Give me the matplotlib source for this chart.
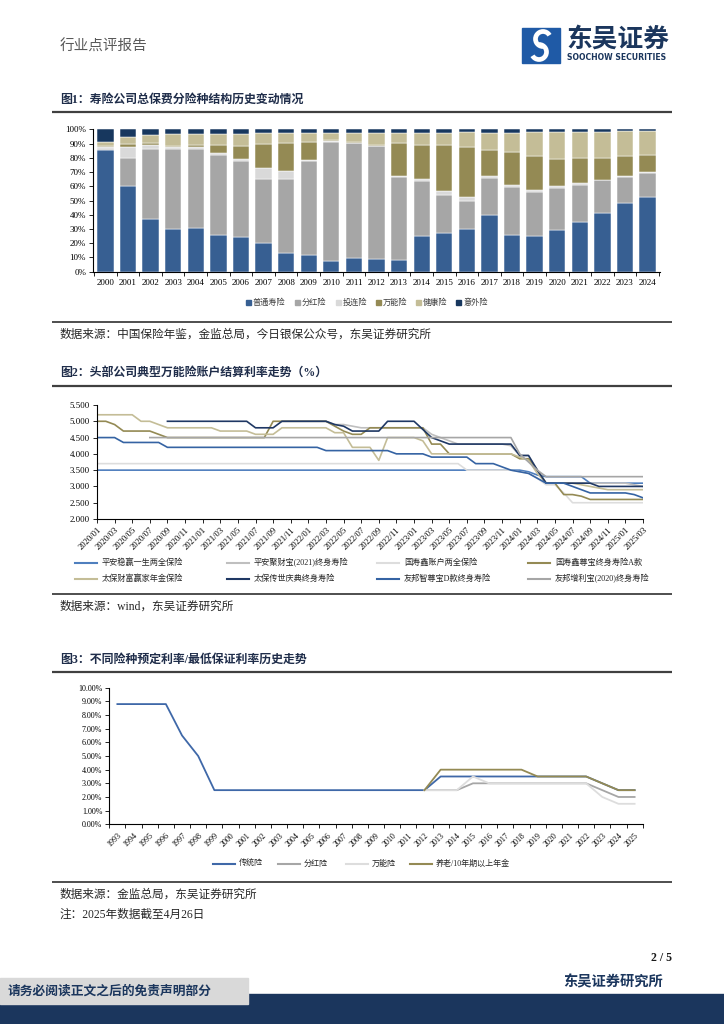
import matplotlib
matplotlib.use("Agg")
import matplotlib.pyplot as plt
from matplotlib.patches import Rectangle, Arc
from matplotlib.ticker import FormatStrFormatter
import numpy as np

W, H = 724, 1024
plt.rcParams['font.family'] = ['Liberation Serif', 'Noto Sans CJK SC']
plt.rcParams['axes.linewidth'] = 0.8

NAVY = '#1B365D'


def runs(*pairs):
    # expand (value, number of months) pairs
    out = []
    for v, n in pairs:
        out += [v] * n
    return out


# ---------------- chart 1 data: premium mix by product (%) ----------------
years1 = [str(y) for y in range(2000, 2025)]
mix_names = ['普通寿险', '分红险', '投连险', '万能险', '健康险', '意外险']
ordinary = [85.5, 60.4, 37.0, 30.0, 30.9, 25.8, 24.6, 19.9, 12.9, 11.9, 7.7, 9.6, 9.1,
            8.2, 25.1, 27.4, 30.0, 39.6, 26.0, 25.1, 29.0, 35.1, 41.2, 48.5, 52.2]
participating = [0.8, 19.2, 49.2, 56.0, 55.5, 56.4, 53.2, 45.0, 52.0, 65.6, 83.2, 80.6, 79.2,
                 58.1, 38.8, 26.5, 19.6, 26.0, 33.7, 31.1, 29.8, 25.6, 23.0, 18.0, 17.1]
unit_linked = [1.5, 7.8, 2.8, 1.8, 1.4, 1.4, 1.1, 7.7, 5.8, 1.0, 0.7, 0.3, 0.3,
               0.9, 1.2, 3.0, 2.6, 1.4, 1.0, 1.4, 1.2, 1.6, 0.4, 0.5, 0.5]
universal = [0.2, 2.3, 1.6, 0.7, 1.4, 5.2, 9.4, 17.1, 19.9, 12.8, 0.7, 0.5, 0.6,
             23.0, 23.9, 32.1, 35.2, 18.7, 23.1, 23.9, 19.4, 17.6, 15.0, 14.3, 12.4]
health = [3.2, 4.7, 5.7, 8.0, 7.5, 7.9, 8.4, 7.5, 7.1, 6.4, 5.4, 6.2, 8.0,
          7.5, 8.7, 8.7, 10.7, 12.0, 13.9, 16.6, 18.7, 18.2, 18.8, 17.3, 16.6]
accident = [8.8, 5.6, 3.7, 3.5, 3.3, 3.3, 3.3, 2.8, 2.3, 2.3, 2.3, 2.8, 2.8,
            2.3, 2.3, 2.3, 1.9, 2.3, 2.3, 1.9, 1.9, 1.9, 1.6, 1.4, 1.2]
mix_colors = ['#375F92', '#A6A6A6', '#D9D9D9', '#948A54', '#C4BD97', '#17375E']

# ---------------- chart 2 data: universal life crediting rates (%) ----------------
months = [f'{y}/{m:02d}' for y in range(2020, 2026) for m in range(1, 13)][:63]
pa_wenying = runs((3.5, 49), (3.45, 1), (3.35, 1), (3.3, 5), (3.1, 7))
pa_jucaibao = runs((None, 21), (5.0, 6), (4.9, 2), (4.85, 1), (4.8, 8), (4.6, 1), (4.5, 1),
                   (4.4, 1), (4.3, 6), (4.25, 1), (3.95, 2), (3.5, 1), (3.1, 10), (3.05, 1), (3.0, 1))
gs_zhanghu = runs((3.7, 42), (3.5, 6), (3.45, 1), (3.4, 1), (3.25, 1), (3.05, 2), (2.8, 1), (2.5, 9))
gs_zunbao = runs((5.0, 2), (4.9, 1), (4.7, 4), (4.6, 1), (4.5, 12), (5.0, 7), (4.85, 1), (4.7, 1),
                 (4.6, 2), (4.8, 7), (4.3, 2), (4.0, 8), (3.85, 2), (3.5, 1), (3.1, 2), (2.75, 2),
                 (2.7, 1), (2.6, 7))
tb_caifu = runs((5.2, 5), (5.0, 2), (4.9, 1), (4.8, 6), (4.7, 4), (4.6, 3), (4.8, 6), (4.65, 2),
                (4.2, 3), (3.8, 1), (4.5, 4), (4.4, 1), (4.0, 10), (3.9, 1), (3.8, 1), (3.4, 1),
                (3.1, 4), (3.05, 1), (3.0, 1), (2.95, 1), (2.9, 5))
tb_chuanshi = runs((None, 8), (5.0, 10), (4.8, 3), (5.0, 6), (4.9, 1), (4.85, 1), (4.7, 4),
                   (5.0, 4), (4.75, 1), (4.5, 1), (4.4, 1), (4.3, 8), (3.95, 2), (3.5, 1),
                   (3.1, 6), (3.0, 6))
aia_zhizun = runs((4.5, 3), (4.35, 5), (4.2, 18), (4.1, 8), (4.0, 4), (3.9, 5), (3.7, 3), (3.6, 1),
                  (3.5, 1), (3.45, 1), (3.4, 1), (3.25, 1), (3.1, 3), (3.0, 1), (2.9, 1), (2.8, 5),
                  (2.75, 1), (2.65, 1))
aia_zengli = runs((None, 6), (4.5, 42), (4.0, 1), (3.75, 1), (3.5, 1), (3.3, 12))
rate_names = ['平安稳赢一生两全保险', '平安聚财宝(2021)终身寿险', '国寿鑫账户两全保险', '国寿鑫尊宝终身寿险A款',
              '太保财富赢家年金保险', '太保传世庆典终身寿险', '友邦智尊宝D款终身寿险', '友邦增利宝(2020)终身寿险']
rate_series = [pa_wenying, pa_jucaibao, gs_zhanghu, gs_zunbao, tb_caifu, tb_chuanshi, aia_zhizun, aia_zengli]
rate_colors = ['#4F7FBE', '#BFBFBF', '#DDDDDD', '#948A54', '#C4BD97', '#1F3864', '#3563A3', '#A6A6A6']

# ---------------- chart 3 data: pricing / guaranteed rates (%) ----------------
years3 = [str(y) for y in range(1993, 2026)]
traditional = runs((8.8, 4), (6.5, 1), (5.0, 1), (2.5, 14), (3.5, 10), (3.0, 1), (2.5, 2))
dividend = runs((None, 19), (2.5, 3), (3.0, 8), (2.5, 1), (2.0, 2))
universal_g = runs((None, 19), (2.5, 3), (3.5, 1), (3.0, 7), (2.0, 1), (1.5, 2))
pension = runs((None, 19), (2.5, 1), (4.0, 6), (3.5, 4), (3.0, 1), (2.5, 2))
guar_names = ['传统险', '分红险', '万能险', '养老/10年期以上年金']
guar_series = [traditional, dividend, universal_g, pension]
guar_colors = ['#3F68A8', '#A6A6A6', '#DDDDDD', '#948A54']


def box(x0, y0, x1, y1):
    return [x0 / W, 1 - y1 / H, (x1 - x0) / W, (y1 - y0) / H]


def to_arr(vals):
    return np.array([np.nan if v is None else v for v in vals], dtype=float)


fig = plt.figure(figsize=(W / 100, H / 100), dpi=100)
page = fig.add_axes([0, 0, 1, 1])
page.set_xlim(0, W)
page.set_ylim(H, 0)
page.axis('off')

# ---------------- header ----------------
page.text(60, 47, '行业点评报告', fontsize=10.5, color='#595959', va='center')
page.add_patch(Rectangle((522, 28), 38, 35, color='#1F5AA6'))
# white S band of the logo (y axis is flipped on this page)
page.add_patch(Arc((543, 39), 15, 15, theta1=90, theta2=330, color='white', lw=3.4))
page.add_patch(Arc((539, 52), 15, 15, theta1=270, theta2=150, color='white', lw=3.4))
page.text(566, 39, '东吴证券', fontsize=18.5, color=NAVY, va='center', fontweight='bold',
          family=['Noto Sans CJK SC'])
page.text(567, 57.5, 'SOOCHOW SECURITIES', fontsize=5.6, color=NAVY, va='center', fontweight='bold',
          family=['DejaVu Sans'])


def section(y_title, y_line, title):
    page.text(60, y_title, title, fontsize=8.6, fontweight='bold', color='#1F2D4A', va='center')
    page.plot([52, 672], [y_line, y_line], color='#404040', lw=1.6, solid_capstyle='butt')


def source(y_line, lines):
    page.plot([52, 672], [y_line, y_line], color='#404040', lw=1.3, solid_capstyle='butt')
    for i, s in enumerate(lines):
        page.text(60, y_line + 13 + i * 20, s, fontsize=8.4, color='#262626', va='center')


# ---------------- chart 1 ----------------
section(100, 112, '图1：寿险公司总保费分险种结构历史变动情况')
ax1 = fig.add_axes(box(93, 129.3, 660, 271.7))
x1 = np.arange(len(years1))
mix = np.array([ordinary, participating, unit_linked, universal, health, accident])
mix = mix / mix.sum(axis=0) * 100
bottom = np.zeros(len(years1))
for vals, col in zip(mix, mix_colors):
    ax1.bar(x1, vals, 0.72, bottom=bottom, color=col, edgecolor='white', linewidth=0.35)
    bottom += vals
ax1.set_xlim(-0.55, len(years1) - 0.45)
ax1.set_ylim(0, 100)
ax1.set_yticks(np.arange(0, 101, 10))
ax1.yaxis.set_major_formatter(FormatStrFormatter('%d%%'))
ax1.set_xticks(x1)
ax1.set_xticklabels(years1)
ax1.set_xticks(np.arange(-0.5, len(years1), 1), minor=True)
ax1.tick_params(axis='x', which='major', length=0, labelsize=6.5, pad=5)
ax1.tick_params(axis='x', which='minor', length=3, width=0.6)
ax1.tick_params(axis='y', labelsize=6.5, length=3, width=0.6, pad=2)
for s in ['top', 'right']:
    ax1.spines[s].set_visible(False)
ax1.patch.set_alpha(0)

leg1_x = [246, 295, 336, 376, 416, 456]
for xx, name, col in zip(leg1_x, mix_names, mix_colors):
    page.add_patch(Rectangle((xx, 300), 5, 5, color=col))
    page.text(xx + 7, 302.5, name, fontsize=5.9, color='#404040', va='center')

source(322, ['数据来源：中国保险年鉴，金监总局，今日银保公众号，东吴证券研究所'])

# ---------------- chart 2 ----------------
section(373, 386, '图2：头部公司典型万能险账户结算利率走势（%）')
ax2 = fig.add_axes(box(97, 405, 643, 519))
x2 = np.arange(len(months))
for vals, col in zip(rate_series, rate_colors):
    ax2.plot(x2, to_arr(vals), color=col, lw=1.2)
ax2.set_xlim(0, len(months) - 1)
ax2.set_ylim(2.0, 5.5)
ax2.set_yticks(np.arange(2.0, 5.51, 0.5))
ax2.yaxis.set_major_formatter(FormatStrFormatter('%.3f'))
ax2.set_xticks(x2[::2])
ax2.set_xticklabels(months[::2], rotation=45, ha='right', va='top', rotation_mode='anchor')
ax2.tick_params(axis='x', labelsize=6.2, length=3, width=0.6, pad=2)
ax2.tick_params(axis='y', labelsize=6.3, length=3, width=0.6, pad=2)
for s in ['top', 'right']:
    ax2.spines[s].set_visible(False)
ax2.patch.set_alpha(0)

leg2_x = [75, 227, 377, 528]
leg2_y = [563, 579]
for i, (name, col) in enumerate(zip(rate_names, rate_colors)):
    lx = leg2_x[i % 4]
    ly = leg2_y[i // 4]
    page.plot([lx, lx + 22], [ly, ly], color=col, lw=1.5)
    page.text(lx + 27, ly, name, fontsize=5.9, color='#262626', va='center')

source(594, ['数据来源：wind，东吴证券研究所'])

# ---------------- chart 3 ----------------
section(660, 672, '图3：不同险种预定利率/最低保证利率历史走势')
ax3 = fig.add_axes(box(109.3, 687.7, 642.7, 824.3))
x3 = np.arange(len(years3))
for vals, col in zip(guar_series, guar_colors):
    ax3.plot(x3, to_arr(vals), color=col, lw=1.3)
ax3.set_xlim(-0.5, len(years3) - 0.5)
ax3.set_ylim(0, 10)
ax3.set_yticks(np.arange(0, 10.01, 1))
ax3.yaxis.set_major_formatter(FormatStrFormatter('%.2f%%'))
ax3.set_xticks(x3)
ax3.set_xticklabels(years3, rotation=45, ha='right', va='top', rotation_mode='anchor')
ax3.set_xticks(np.arange(-0.5, len(years3), 1), minor=True)
ax3.tick_params(axis='x', which='major', length=0, labelsize=5.8, pad=5)
ax3.tick_params(axis='x', which='minor', length=3, width=0.6)
ax3.tick_params(axis='y', labelsize=5.8, length=3, width=0.6, pad=2)
for s in ['top', 'right']:
    ax3.spines[s].set_visible(False)
ax3.patch.set_alpha(0)

leg3_x = [213, 278, 346, 410]
for xx, name, col in zip(leg3_x, guar_names, guar_colors):
    page.plot([xx, xx + 22], [864, 864], color=col, lw=1.5)
    page.text(xx + 26, 864, name, fontsize=5.8, color='#262626', va='center')

source(882, ['数据来源：金监总局，东吴证券研究所', '注：2025年数据截至4月26日'])

# ---------------- footer ----------------
page.text(672, 958, '2 / 5', fontsize=8.5, fontweight='bold', ha='right', va='center', color='#1a1a1a')
page.text(663, 982, '东吴证券研究所', fontsize=10.3, fontweight='bold', ha='right', va='center', color=NAVY)
page.add_patch(Rectangle((0, 994), W, 30, color=NAVY))
page.add_patch(Rectangle((0, 978), 248, 26, color='#D9D9D9'))
page.text(8, 991, '请务必阅读正文之后的免责声明部分', fontsize=9.2, fontweight='bold', va='center', color=NAVY)

fig.savefig('out.png', dpi=100)
